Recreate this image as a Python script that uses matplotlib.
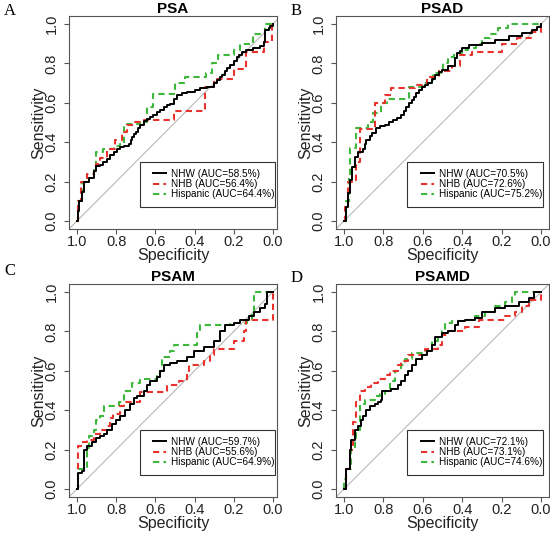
import numpy as np
import matplotlib.pyplot as plt
from matplotlib.patches import Rectangle

plt.rcParams['font.family'] = ['Liberation Sans', 'DejaVu Sans']

groups = ['NHW', 'NHB', 'Hispanic']
colors = ['black', '#e8322e', '#3db83d']
panel_titles = ['PSA', 'PSAD', 'PSAM', 'PSAMD']
panel_letters = ['A', 'B', 'C', 'D']
auc = [[58.5, 56.4, 64.4], [70.5, 72.6, 75.2], [59.7, 55.6, 64.9], [72.1, 73.1, 74.6]]

# (specificity, sensitivity) at each step of the ROC curve
psa_nhw = [(1.0, 0.0), (0.995, 0.05), (0.99, 0.10), (0.975, 0.15), (0.966, 0.20), (0.94, 0.22),
           (0.915, 0.255), (0.90, 0.28), (0.88, 0.285), (0.865, 0.30), (0.847, 0.315), (0.83, 0.335),
           (0.813, 0.35), (0.795, 0.365), (0.78, 0.375), (0.76, 0.383), (0.736, 0.39), (0.725, 0.41),
           (0.72, 0.425), (0.71, 0.44), (0.70, 0.45), (0.69, 0.47), (0.68, 0.485), (0.66, 0.51),
           (0.645, 0.52), (0.626, 0.528), (0.61, 0.54), (0.59, 0.553), (0.575, 0.565), (0.558, 0.58),
           (0.54, 0.59), (0.524, 0.596), (0.507, 0.62), (0.49, 0.64), (0.465, 0.65), (0.44, 0.656),
           (0.40, 0.665), (0.37, 0.673), (0.337, 0.68), (0.30, 0.70), (0.286, 0.715), (0.27, 0.73),
           (0.26, 0.74), (0.245, 0.76), (0.235, 0.775), (0.22, 0.79), (0.20, 0.81), (0.185, 0.83),
           (0.175, 0.843), (0.16, 0.855), (0.14, 0.87), (0.10, 0.877), (0.065, 0.886), (0.048, 0.91),
           (0.04, 0.97), (0.022, 0.98), (0.014, 0.99), (0.0, 1.0)]
psa_nhb = [(1.0, 0.0), (0.995, 0.10), (0.98, 0.20), (0.95, 0.24), (0.915, 0.255), (0.90, 0.29),
           (0.88, 0.32), (0.847, 0.365), (0.805, 0.41), (0.77, 0.45), (0.745, 0.485), (0.71, 0.50),
           (0.66, 0.515), (0.507, 0.56), (0.345, 0.68), (0.30, 0.72), (0.20, 0.77), (0.14, 0.86),
           (0.048, 0.91), (0.005, 1.0), (0.0, 1.0)]
psa_his = [(1.0, 0.0), (0.995, 0.10), (0.975, 0.20), (0.95, 0.22), (0.915, 0.27), (0.90, 0.35),
           (0.865, 0.365), (0.813, 0.38), (0.78, 0.39), (0.76, 0.48), (0.745, 0.49), (0.68, 0.50),
           (0.645, 0.52), (0.64, 0.58), (0.61, 0.645), (0.50, 0.70), (0.45, 0.73), (0.34, 0.75),
           (0.31, 0.80), (0.28, 0.84), (0.20, 0.87), (0.17, 0.90), (0.10, 0.95), (0.04, 1.0), (0.0, 1.0)]

psad_nhw = [(1.0, 0.0), (0.99, 0.07), (0.98, 0.14), (0.97, 0.21), (0.96, 0.275), (0.946, 0.326),
            (0.929, 0.35), (0.903, 0.368), (0.895, 0.39), (0.886, 0.41), (0.87, 0.43), (0.86, 0.445),
            (0.835, 0.47), (0.815, 0.48), (0.793, 0.487), (0.77, 0.50), (0.75, 0.513), (0.73, 0.525),
            (0.708, 0.538), (0.695, 0.56), (0.683, 0.58), (0.67, 0.60), (0.657, 0.615), (0.645, 0.63),
            (0.632, 0.648), (0.62, 0.665), (0.606, 0.68), (0.59, 0.69), (0.572, 0.70), (0.555, 0.72),
            (0.538, 0.742), (0.52, 0.755), (0.504, 0.767), (0.47, 0.785), (0.436, 0.827), (0.428, 0.852),
            (0.41, 0.865), (0.402, 0.878), (0.368, 0.895), (0.30, 0.903), (0.233, 0.92), (0.165, 0.937),
            (0.097, 0.954), (0.046, 0.971), (0.02, 0.985), (0.0, 1.0)]
psad_nhb = [(1.0, 0.0), (0.995, 0.07), (0.98, 0.20), (0.96, 0.21), (0.94, 0.30), (0.92, 0.465),
            (0.844, 0.60), (0.79, 0.64), (0.76, 0.675), (0.64, 0.69), (0.58, 0.73), (0.52, 0.76),
            (0.45, 0.785), (0.41, 0.84), (0.35, 0.86), (0.20, 0.90), (0.12, 0.93), (0.05, 0.96), (0.0, 1.0)]
psad_his = [(1.0, 0.0), (0.99, 0.10), (0.975, 0.22), (0.97, 0.37), (0.94, 0.47), (0.88, 0.50),
            (0.85, 0.55), (0.81, 0.60), (0.78, 0.62), (0.67, 0.68), (0.60, 0.70), (0.55, 0.75),
            (0.50, 0.80), (0.47, 0.83), (0.44, 0.85), (0.40, 0.87), (0.37, 0.88), (0.33, 0.90),
            (0.30, 0.93), (0.26, 0.95), (0.22, 0.98), (0.17, 1.0), (0.0, 1.0)]

psam_nhw = [(1.0, 0.0), (0.995, 0.08), (0.974, 0.09), (0.966, 0.20), (0.949, 0.22), (0.923, 0.24),
            (0.90, 0.26), (0.88, 0.27), (0.864, 0.28), (0.847, 0.30), (0.82, 0.33), (0.80, 0.35),
            (0.78, 0.37), (0.753, 0.40), (0.728, 0.43), (0.71, 0.46), (0.694, 0.47), (0.66, 0.50),
            (0.643, 0.53), (0.626, 0.55), (0.592, 0.57), (0.575, 0.60), (0.558, 0.63), (0.524, 0.64),
            (0.49, 0.65), (0.439, 0.67), (0.405, 0.70), (0.354, 0.72), (0.303, 0.75), (0.269, 0.80),
            (0.243, 0.83), (0.20, 0.84), (0.167, 0.86), (0.124, 0.88), (0.099, 0.90), (0.065, 0.92),
            (0.039, 0.94), (0.031, 1.0), (0.0, 1.0)]
psam_nhb = [(1.0, 0.0), (0.995, 0.22), (0.974, 0.24), (0.95, 0.25), (0.915, 0.28), (0.88, 0.30),
            (0.847, 0.32), (0.83, 0.36), (0.815, 0.38), (0.78, 0.42), (0.76, 0.44), (0.68, 0.49),
            (0.54, 0.53), (0.48, 0.55), (0.44, 0.60), (0.43, 0.63), (0.35, 0.65), (0.32, 0.68),
            (0.30, 0.71), (0.20, 0.75), (0.15, 0.80), (0.14, 0.86), (0.0, 1.0)]
psam_his = [(1.0, 0.0), (0.995, 0.10), (0.95, 0.20), (0.94, 0.27), (0.915, 0.30), (0.90, 0.35),
            (0.88, 0.37), (0.864, 0.42), (0.786, 0.44), (0.76, 0.50), (0.72, 0.54), (0.68, 0.56),
            (0.592, 0.58), (0.575, 0.60), (0.566, 0.67), (0.524, 0.70), (0.507, 0.73), (0.388, 0.79),
            (0.371, 0.83), (0.218, 0.84), (0.133, 0.86), (0.107, 0.90), (0.099, 1.0), (0.0, 1.0)]

psamd_nhw = [(1.0, 0.0), (0.988, 0.10), (0.971, 0.20), (0.963, 0.25), (0.946, 0.30), (0.929, 0.32),
             (0.912, 0.35), (0.903, 0.37), (0.886, 0.40), (0.869, 0.42), (0.844, 0.43), (0.827, 0.44),
             (0.81, 0.45), (0.805, 0.50), (0.776, 0.50), (0.759, 0.51), (0.725, 0.53), (0.708, 0.55),
             (0.691, 0.58), (0.674, 0.60), (0.657, 0.63), (0.632, 0.66), (0.606, 0.68), (0.581, 0.70),
             (0.555, 0.73), (0.538, 0.77), (0.504, 0.79), (0.47, 0.80), (0.436, 0.83), (0.419, 0.85),
             (0.385, 0.86), (0.334, 0.87), (0.30, 0.90), (0.233, 0.92), (0.182, 0.93), (0.114, 0.95),
             (0.063, 0.97), (0.037, 1.0), (0.0, 1.0)]
psamd_nhb = [(1.0, 0.0), (0.988, 0.10), (0.971, 0.20), (0.954, 0.34), (0.937, 0.44), (0.92, 0.50),
             (0.895, 0.52), (0.861, 0.54), (0.827, 0.56), (0.793, 0.58), (0.767, 0.60), (0.725, 0.63),
             (0.708, 0.65), (0.674, 0.68), (0.589, 0.71), (0.521, 0.73), (0.504, 0.78), (0.47, 0.80),
             (0.385, 0.82), (0.317, 0.86), (0.182, 0.88), (0.131, 0.90), (0.097, 0.93), (0.063, 0.96),
             (0.0, 1.0)]
psamd_his = [(1.0, 0.0), (0.997, 0.05), (0.99, 0.10), (0.963, 0.20), (0.946, 0.25), (0.937, 0.30),
             (0.92, 0.43), (0.895, 0.45), (0.844, 0.47), (0.818, 0.48), (0.793, 0.50), (0.767, 0.55),
             (0.742, 0.60), (0.708, 0.63), (0.691, 0.66), (0.657, 0.69), (0.589, 0.70), (0.555, 0.75),
             (0.521, 0.77), (0.504, 0.80), (0.487, 0.84), (0.453, 0.85), (0.385, 0.86), (0.334, 0.88),
             (0.284, 0.90), (0.233, 0.93), (0.182, 0.95), (0.148, 0.98), (0.131, 1.0), (0.0, 1.0)]

curves = [[psa_nhw, psa_nhb, psa_his], [psad_nhw, psad_nhb, psad_his],
          [psam_nhw, psam_nhb, psam_his], [psamd_nhw, psamd_nhb, psamd_his]]

W, H = 550, 535
fig = plt.figure(figsize=(W / 100, H / 100), dpi=100)

# box in pixels: left, top, right, bottom  (left panels are cropped on the right)
boxes = [(69, 16, 277, 229), (336, 16, 549, 229), (69, 284, 277, 497), (336, 284, 549, 497)]
xlims = [(1.04, -0.02), (1.04, -0.04), (1.04, -0.02), (1.04, -0.04)]
letter_pos = [(4, 11), (291, 11), (4, 271), (291, 278)]

ticks = np.arange(0, 1.01, 0.2)
dash = (0, (3.0, 2.0))

for k in range(4):
    l, t, r, b = boxes[k]
    ax = fig.add_axes([l / W, 1 - b / H, (r - l) / W, (b - t) / H])
    ax.axline((1, 0), (0, 1), color='#b8b8b8', lw=0.8, zorder=1)
    for j in range(3):
        pts = np.array(curves[k][j])
        ax.plot(pts[:, 0], pts[:, 1], drawstyle='steps-post', color=colors[j],
                lw=1.4 if j == 0 else 1.5, ls='-' if j == 0 else dash,
                label='%s (AUC=%.1f%%)' % (groups[j], auc[k][j]), zorder=3 - j * 0.1)
    ax.set_xlim(*xlims[k])
    ax.set_ylim(-0.04, 1.04)
    ax.set_xticks(ticks)
    ax.set_yticks(ticks)
    ax.set_xticklabels(['%.1f' % v for v in ticks])
    ax.set_yticklabels(['%.1f' % v for v in ticks], rotation=90, va='center')
    ax.tick_params(length=3.5, width=0.8, color='#555555', labelsize=10.5, labelcolor='#222222')
    ax.tick_params(axis='x', pad=0.5)
    ax.tick_params(axis='y', pad=4)
    for s in ax.spines.values():
        s.set_color('#555555')
        s.set_linewidth(0.8)
    ax.set_xlabel('Specificity', fontsize=11.5, labelpad=-0.5, color='#222222')
    ax.set_ylabel('Sensitivity', fontsize=11.5, labelpad=-1, color='#222222')
    ax.set_title(panel_titles[k], fontsize=11, fontweight='bold', pad=2)

    # legend frame drawn by hand to get R-like padding
    ax.add_patch(Rectangle((0.68, 0.07), -0.69, 0.23, fill=False, ec='#333333', lw=0.8, zorder=4))
    ax.legend(loc='upper left', bbox_to_anchor=(0.61, 0.265), bbox_transform=ax.transData,
              frameon=False, fontsize=7.2, borderpad=0, handlelength=1.3, handletextpad=0.5,
              labelspacing=0.02, borderaxespad=0)

    lx, ly = letter_pos[k]
    fig.text(lx / W, 1 - ly / H, panel_letters[k], family='Liberation Serif', fontsize=12,
             va='center', ha='left')

fig.savefig('out.png', dpi=100)
